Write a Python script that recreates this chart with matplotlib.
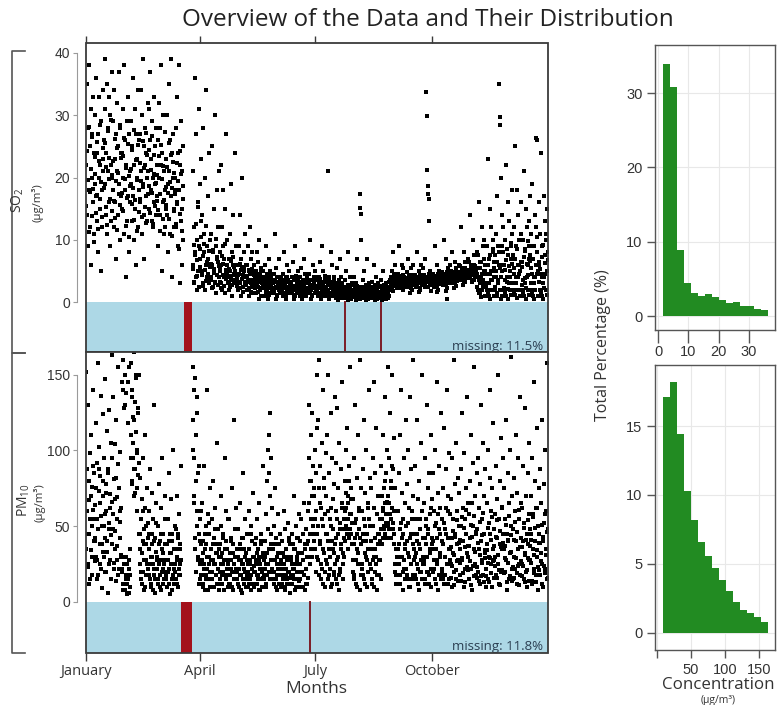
import numpy as np
import matplotlib
matplotlib.use("Agg")
import matplotlib.pyplot as plt
from matplotlib.patches import Rectangle
from matplotlib.lines import Line2D

nan = float("nan")

# ---------------- data ----------------
# SO2 concentration readings, grouped in 52 consecutive blocks of the year
so2_blocks = [
    [22, 35, 14, 28, 9, 38, 18, 25, 12, 31, 6, 20, 27, 16, 33, 11, 24, 19],
    [30, 17, 36, 13, 24, 8, 27, 20, 33, 15, 22, 5, 29, 18, 12, 34, 23, 26],
    [26, 39, 19, 31, 14, 24, 35, 11, 28, 21, 16, 33, 9, 30, 22, 13, 37, 20],
    [18, 29, 12, 34, 23, 16, 27, 7, 21, 32, 14, 25, 19, 37, 10, 28, 17, 24],
    [24, 15, 31, 20, 38, 11, 26, 18, 4, 22, 29, 13, 33, 17, 8, 27, 21, 16],
    [19, 29, 13, 25, 36, 17, 22, 10, 31, 15, 27, 6, 23, 20, 34, 12, 26, 18],
    [27, 16, 34, 21, 11, 30, 19, 39, 14, 25, 7, 22, 28, 17, 24, 13, 20, 32],
    [21, 31, 15, 26, 37, 18, 23, 13, 29, 12, 20, 33, 16, 25, 19, 28, 14, 22],
    [17, 26, 9, 32, 20, 14, 28, 38, 22, 5, 24, 16, 30, 11, 21, 18, 12, 15],
    [23, 14, 30, 19, 8, 35, 21, 26, 11, 39, 17, 24, 4, 20, 27, 15, 12, 18],
    [20, 28, 12, 33, 16, 24, 9, 38, 18, 3, 22, 13, 29, 6, 21, 15, 25, 10],
    [],
    [6, 21, 3, 12, 36, 8, 4, 27, 10, 2, 16, 5, 31, 9, 7, 19, 13, 23],
    [5, 14, 3, 28, 8, 11, 2, 20, 6, 34, 4, 9, 17, 7, 3, 24, 10, 6],
    [4, 11, 6, 25, 2.5, 8, 15, 5, 30, 3, 9, 1.5, 18, 7, 6.5, 12, 4, 21],
    [5, 8, 3, 22, 6, 12, 2, 9, 18, 4, 7, 1.5, 15, 5, 27, 6, 10, 4],
    [4, 7, 2, 11, 5, 19, 3.5, 8, 1, 6, 14, 4.5, 3, 24, 5, 9, 6, 3],
    [3.5, 6, 2, 9, 4.5, 14, 3, 7, 1, 5.5, 20, 4, 2.5, 8, 5, 11, 3, 6],
    [4, 6, 2, 9, 3.5, 5, 1, 12, 4.5, 3, 7, 2.5, 8, 1.5, 5, 3.5, 6, 4],
    [3, 5, 1.5, 8, 4, 2.5, 6.5, 0.5, 3.5, 10, 2, 4.5, 5.5, 1, 3, 4, 2.5, 5],
    [2.5, 4, 1, 6, 3, 9, 2, 4.5, 0.5, 3.5, 7, 1.5, 5, 2.5, 3, 4, 2, 3.5],
    [3, 1.5, 4.5, 2, 11, 3.5, 0.5, 5.5, 2.5, 1, 4, 3, 7, 2, 3.5, 1.5, 4, 2.5],
    [2, 3.5, 1, 4.5, 2.5, 8, 1.5, 3, 0.5, 4, 2, 6, 3.5, 1.5, 2.5, 5, 3, 2],
    [3, 1.5, 4, 2, 6.5, 2.5, 0.5, 3.5, 1, 9, 2, 4, 3, 1.5, 5, 2.5, 3.5, 2],
    [2.5, 4, 1, 3, 5.5, 2, 0.5, 3.5, 1.5, 7, 2.5, 4.5, 3, 1, 2, 3.5, 4, 2],
    [3, 1.5, 4.5, 2.5, 10, 2, 0.5, 3.5, 1, 6, 2.5, 4, 3, 1.5, 5, 2, 3.5, 2.5],
    [2, 3.5, 1, 4, 2.5, 6.5, 1.5, 3, 0.5, 9, 2, 5, 3, 1, 2.5, 4, 3.5, 2],
    [2.5, 1, 3.5, 21, 2, 4, 0.5, 3, 1.5, 8, 2.5, 6, 3, 1, 2, 4, 3.5, 1.5],
    [1.5, 3, 0.7, 2.5, 5.5, 1.2, 2, 0.4, 3.5, 1.8, 7, 1, 2.5, 4, 1.5, 3, 2, 1.2],
    [1.2, 2.5, 0.7, 3.5, 1.6, 5, 1, 2.2, 0.4, 8, 1.8, 2.8, 1.5, 4, 1, 2, 1.2, 3],
    [1.5, 2.8, 0.8, 4, 1.2, 2.2, 0.4, 3, 1.8, 7, 1, 2.5, 1.4, 1.6, 17.4, 15.1, 14.1, 10],
    [1.2, 2.4, 0.6, 3.5, 1.5, 5, 0.8, 2, 0.4, 2.8, 1.8, 7, 1, 2.2, 1.4, 3, 1.6, 2.4],
    [2, 1, 3.2, 0.6, 2.4, 1.5, 6, 0.8, 2.8, 1.2, 0.4, 4, 1.8, 2.2, 1.4, 3, 1.6, 2.4],
    [1.4, 2.6, 0.7, 3.5, 1, 2, 0.4, 5, 1.6, 2.8, 1.2, 2.3, 0.9, 3, 1.8, 1.5, 2.2, 0.6],
    [1.5, 2, 1, 3.5, 2.5, 4, 3, 5, 2.5, 8, 3.5, 4.5, 3, 6, 2.8, 3.2, 4, 3],
    [3, 4.5, 2.2, 3.7, 9, 2.8, 4.2, 3.4, 2.5, 6, 3.2, 2, 5.5, 3, 4, 2.6, 3.5, 3.8],
    [3.5, 2.4, 4.8, 3, 7, 2.7, 4.2, 3.3, 1.5, 5.5, 3.8, 2, 3.2, 6, 3.6, 2.8, 4, 3.1],
    [3.3, 4.4, 2.4, 3.6, 8, 2.7, 4, 3, 1.6, 5, 3.5, 2, 6, 3.1, 4.2, 2.9, 3.4, 5.5],
    [4.4, 3.2, 7, 2.4, 3.6, 33.8, 29.9, 21.2, 18.7, 17.3, 16.6, 13.0, 2.8, 5, 3, 1.8, 3.8, 4],
    [3.6, 4.5, 2.4, 3.3, 9, 2.7, 4.2, 3, 1.6, 6, 3.4, 2, 5, 3.1, 4, 2.9, 3.5, 4.4],
    [3.9, 4.8, 2.7, 3.6, 10, 3, 4.5, 3.3, 1.8, 7, 0.5, 2.3, 5.5, 3.4, 4.3, 3.1, 3.8, 6],
    [4.2, 5, 3, 3.9, 8, 3.3, 4.8, 3.6, 2.2, 6.5, 3.7, 2.6, 5.5, 3.4, 4.6, 4.4, 4, 6],
    [4.8, 5.8, 3.6, 4.5, 12, 3.9, 5.5, 4.2, 2.8, 8, 4.3, 3.2, 6.5, 4, 5.2, 4.6, 5, 7],
    [5.2, 6.5, 4, 4.9, 14, 4.3, 6, 4.6, 3.2, 10, 4.7, 3.6, 7.5, 4.4, 5.8, 5, 5.4, 8],
    [5.5, 2, 7.5, 3.5, 16, 1.5, 6.5, 4, 0.8, 12, 3, 9, 2.5, 5, 10, 4.5, 6, 3],
    [6, 2, 9, 3, 23, 1, 7, 4.5, 0.5, 15, 3.5, 12, 5, 2, 10, 8.5, 4, 6.5],
    [7.5, 2, 11, 4, 17, 1, 9, 3, 6, 35, 29.7, 28.4, 20, 0.5, 14, 5, 8, 12],
    [6, 2, 10, 3.5, 22, 1, 8.5, 4, 0.5, 16, 3, 13, 5, 2, 9, 7, 11, 18],
    [7.5, 2, 12, 4.5, 25, 1.2, 9, 3, 0.6, 18, 4, 14, 6, 2, 10, 5, 11, 16],
    [6.5, 2, 10, 3.5, 21, 1, 8.5, 3, 0.5, 15, 4, 12, 6, 2, 9, 7, 13, 17],
    [7.5, 2, 11, 4.5, 19, 1, 9, 3, 0.5, 14, 4, 12, 26.4, 26, 8, 6, 5, 16],
    [6, 2, 11, 4.5, 24, 1, 9, 3, 0.5, 17, 4, 13, 7.5, 2, 10, 5, 15, 8],
]

# further SO2 readings in the same blocks (the dense core of each block)
so2_blocks_core = [
    [15.4, 24.2, 19.6, 11.3, 28.1, 17.7, 21.4, 13.8, 26.5, 18.2, 9.6, 23.3],
    [20.5, 14.3, 25.7, 17.2, 11.8, 22.6, 28.4, 16.5, 19.3, 13.6, 24.8, 21.1],
    [18.3, 25.6, 15.2, 21.7, 12.4, 27.5, 19.8, 23.1, 16.6, 29.3, 14.7, 20.4],
    [22.6, 16.3, 26.2, 13.5, 19.4, 24.7, 11.6, 20.8, 17.3, 28.5, 15.6, 23.2],
    [17.5, 23.4, 14.6, 26.3, 19.7, 12.2, 21.5, 16.8, 25.4, 10.5, 20.3, 18.6],
    [21.3, 15.7, 24.5, 18.4, 13.2, 27.6, 16.4, 22.8, 11.5, 19.6, 25.3, 14.4],
    [16.6, 22.3, 19.5, 13.7, 25.8, 18.5, 21.6, 15.3, 27.2, 12.7, 23.6, 17.4],
    [18.7, 24.4, 14.3, 21.2, 17.6, 26.7, 12.5, 20.6, 23.7, 15.5, 19.2, 16.3],
    [20.4, 14.8, 23.5, 17.3, 11.4, 25.2, 19.7, 13.3, 21.8, 16.4, 27.3, 18.5],
    [15.6, 21.7, 17.5, 25.5, 13.4, 19.3, 23.6, 10.7, 18.4, 22.5, 14.6, 20.7],
    [17.3, 12.6, 22.4, 15.7, 19.5, 8.6, 24.3, 14.2, 20.6, 11.4, 18.7, 16.5],
    [],
    [5.4, 9.2, 3.3, 7.6, 12.5, 4.2, 6.7, 15.3, 2.4, 8.5, 5.7, 10.4],
    [4.3, 7.4, 2.6, 9.3, 5.2, 3.4, 12.3, 6.5, 4.6, 8.2, 3.7, 5.6],
    [3.6, 6.2, 2.3, 8.4, 4.7, 5.3, 3.2, 10.2, 4.4, 7.3, 2.7, 5.8],
    [3.3, 5.6, 2.2, 7.4, 4.3, 6.2, 2.6, 9.4, 3.7, 5.2, 4.6, 3.1],
    [3.2, 5.3, 2.4, 6.6, 4.2, 2.7, 7.3, 3.6, 5.7, 4.4, 3.3, 4.1],
    [2.6, 4.4, 3.2, 6.2, 2.3, 5.2, 3.7, 4.3, 1.6, 5.6, 3.3, 4.2],
    [2.7, 4.2, 3.3, 5.2, 2.2, 4.6, 3.6, 1.7, 5.4, 3.2, 4.3, 2.4],
    [2.2, 3.6, 2.7, 4.4, 1.6, 3.3, 4.2, 2.3, 5.1, 3.4, 2.6, 3.2],
    [2.2, 3.2, 1.6, 3.7, 2.6, 4.2, 1.2, 3.3, 2.3, 4.4, 2.7, 3.1],
    [2.3, 3.2, 1.7, 3.6, 2.4, 4.1, 1.2, 2.2, 3.3, 2.6, 3.7, 1.6],
    [1.6, 2.7, 3.2, 2.2, 3.6, 1.2, 2.4, 4.1, 2.3, 3.3, 1.7, 2.6],
    [2.2, 3.3, 1.6, 2.6, 3.7, 1.2, 2.3, 4.2, 2.7, 3.2, 1.4, 2.1],
    [1.6, 2.7, 3.2, 2.2, 3.6, 1.2, 2.4, 2.1, 3.3, 1.7, 4.2, 2.3],
    [2.2, 3.3, 1.6, 2.7, 3.6, 1.2, 2.3, 3.1, 2.6, 4.1, 1.7, 2.2],
    [1.7, 2.6, 3.2, 2.3, 3.7, 1.2, 2.7, 2.2, 3.3, 1.6, 4.2, 2.1],
    [2.3, 3.2, 1.6, 2.7, 3.6, 1.2, 2.2, 3.3, 2.6, 1.7, 2.1, 3.1],
    [1.1, 2.2, 1.4, 2.6, 0.8, 1.8, 3.1, 1.2, 2.3, 0.6, 1.6, 2.1],
    [1.1, 1.8, 1.3, 2.4, 0.7, 1.6, 2.8, 1.1, 2.1, 0.5, 1.5, 1.9],
    [1.0, 1.8, 1.3, 2.3, 0.7, 1.5, 2.6, 1.1, 2.0, 0.5, 1.4, 1.9],
    [0.9, 1.7, 1.2, 2.2, 0.6, 1.4, 2.5, 1.0, 1.9, 0.5, 1.3, 1.8],
    [0.8, 1.6, 1.3, 2.1, 0.6, 1.5, 2.4, 1.1, 1.9, 0.5, 1.2, 1.7],
    [0.9, 1.6, 1.1, 2.1, 0.6, 1.3, 2.4, 1.0, 1.8, 0.5, 1.2, 1.7],
    [2.5, 3.2, 2.0, 3.8, 2.8, 3.4, 1.8, 4.2, 3.0, 2.6, 3.6, 2.2],
    [2.8, 3.3, 2.4, 3.9, 3.0, 3.5, 2.2, 4.4, 3.1, 2.7, 3.7, 3.2],
    [2.9, 3.4, 2.5, 3.9, 3.1, 3.6, 2.3, 4.3, 3.2, 2.8, 3.7, 3.3],
    [2.9, 3.5, 2.6, 4.0, 3.1, 3.7, 2.3, 4.4, 3.3, 2.8, 3.8, 3.2],
    [3.0, 3.6, 2.6, 4.1, 3.2, 3.8, 2.4, 4.5, 3.4, 2.9, 3.9, 3.3],
    [3.1, 3.7, 2.7, 4.2, 3.3, 3.9, 2.5, 4.6, 3.5, 3.0, 4.0, 3.4],
    [3.3, 3.9, 2.9, 4.4, 3.5, 4.1, 2.7, 4.8, 3.7, 3.2, 4.2, 3.6],
    [3.6, 4.2, 3.2, 4.7, 3.8, 4.4, 3.0, 5.1, 4.0, 3.5, 4.5, 3.9],
    [4.0, 4.6, 3.6, 5.1, 4.2, 4.8, 3.4, 5.5, 4.4, 3.9, 4.9, 4.3],
    [4.2, 4.9, 3.8, 5.4, 4.5, 5.1, 3.6, 5.9, 4.7, 4.1, 5.2, 4.6],
    [2.5, 4.0, 1.5, 5.5, 3.0, 6.5, 2.0, 4.5, 3.5, 7.0, 1.0, 5.0],
    [2.5, 4.5, 1.5, 6.0, 3.0, 7.5, 2.0, 5.0, 3.5, 8.0, 1.0, 5.5],
    [2.5, 5.0, 1.5, 6.5, 3.5, 8.0, 2.0, 5.5, 4.0, 9.0, 1.0, 6.0],
    [2.2, 5.2, 1.4, 6.8, 3.3, 7.6, 2.1, 5.8, 4.1, 9.5, 1.1, 6.2],
    [3.0, 5.5, 1.5, 7.0, 4.0, 8.5, 2.0, 6.0, 4.5, 10.0, 1.0, 6.5],
    [2.8, 5.6, 1.6, 7.2, 3.8, 8.2, 2.3, 6.1, 4.4, 9.8, 1.2, 6.6],
    [3.0, 5.5, 1.5, 7.0, 4.0, 9.0, 2.0, 6.0, 4.5, 10.5, 1.0, 6.5],
    [3.2, 5.4, 1.7, 7.3, 4.1, 9.2, 2.2, 6.3, 4.6, 11.0, 1.1, 6.8],
]

# PM10 concentration readings, same 52 blocks (nan = missing reading)
pm10_blocks = [
    [152, 45, 88, 23, 130, 67, 12, 98, 55, 34, 110, 76, 18, 61, 140, 40, 85, 27],
    [64, 118, 30, 92, 15, 158, 48, 73, 102, 25, 83, 57, 136, 38, 9, 70, 124, 50],
    [95, 42, 147, 20, 78, 60, 113, 33, 6, 88, 52, 127, 71, 28, 105, 44, 163, 66],
    [58, 135, 26, 81, 104, 47, 14, 120, 69, 37, 91, 155, 22, 75, 53, 99, 31, 62],
    [145, 22, 160, 12, 128, 30, 8, 150, 18, 138, 25, 5, 118, 15, 28, 155, 10, 35],
    [158, 95, 140, 78, 122, 105, 165, 88, 132, 72, 112, 148, 60, 98, 125, 84, 150, 45],
    [35, 82, 20, 55, 12, 68, 40, 95, 28, 8, 48, 110, 62, 18, 38, 75, 25, 52],
    [22, 45, 60, 15, 88, 30, 10, 72, 38, 55, 25, 130, 18, 42, 6, 65, 33, 28],
    [30, 12, 50, 25, 78, 40, 18, 62, 8, 35, 95, 22, 45, 15, 28, 70, 38, 20],
    [18, 38, 10, 55, 28, 85, 22, 45, 5, 32, 68, 15, 40, 25, 100, 12, 35, 50],
    [25, 48, 15, 70, 30, 10, 42, 22, 58, 35, 18, 90, 28, nan, nan, nan, nan, nan],
    [],
    [155, 120, 95, 70, 148, 42, 110, 20, 135, 60, 30, 85, 12, 45, 25, 55, 18, 38],
    [28, 65, 12, 40, 22, 90, 35, 8, 50, 18, 140, 30, 15, 58, 25, 45, 10, 75],
    [20, 35, 55, 15, 28, 80, 10, 42, 25, 62, 32, 18, 105, 38, 22, 48, 8, 30],
    [38, 15, 50, 25, 70, 12, 32, 20, 45, 8, 28, 95, 18, 40, 60, 22, 35, 10],
    [25, 55, 18, 32, 12, 42, 28, 75, 20, 8, 38, 15, 120, 30, 48, 22, 62, 35],
    [15, 30, 48, 22, 10, 38, 65, 18, 28, 6, 42, 25, 85, 12, 35, 20, 55, 32],
    [32, 18, 45, 10, 25, 60, 35, 15, 28, 8, 50, 22, 40, 12, 72, 30, 20, 38],
    [20, 42, 28, 12, 55, 35, 18, 8, 30, 65, 25, 15, 45, 38, 10, 22, 90, 32],
    [28, 15, 40, 22, 58, 10, 32, 18, 48, 25, 85, 110, 125, 70, 95, 38, 20, 62],
    [35, 20, 50, 12, 28, 75, 42, 15, 30, 8, 22, 58, 38, 18, 45, 25, 10, 32],
    [22, 40, 15, 32, 60, 25, 10, 48, 35, 18, 28, 12, 52, 30, 20, 42, 6, 38],
    [30, 12, 45, 25, 18, 38, 70, 22, 8, 35, 15, 50, 28, 42, 20, 32, 10, 58],
    [25, 40, 15, 55, 32, 10, 20, 45, 28, 65, 18, 35, 8, 48, 22, 38, 12, 30],
    [60, 95, 130, 45, 80, 110, 35, 70, 125, 50, 90, 40, 75, 100, 55, 20, 85, 150],
    [45, 120, 28, 75, 160, 38, 90, 15, 62, 105, 22, 50, 140, 32, 82, 10, 58, 98],
    [70, 25, 110, 40, 150, 18, 85, 55, 30, 125, 62, 12, 95, 35, 48, 78, 20, 135],
    [38, 92, 15, 60, 128, 28, 75, 45, 8, 105, 52, 20, 88, 35, 65, 145, 25, 48],
    [55, 30, 80, 40, 100, 62, 48, 115, 35, 70, 42, 90, 58, 155, 45, 75, 52, 38],
    [28, 68, 18, 95, 42, 130, 12, 55, 82, 35, 110, 25, 62, 48, 160, 8, 75, 38],
    [60, 22, 88, 40, 120, 15, 72, 50, 30, 100, 45, 10, 65, 35, 140, 55, 25, 82],
    [35, 75, 12, 50, 95, 28, 62, 145, 20, 42, 85, 30, 115, 8, 58, 38, 70, 18],
    [45, 28, 70, 15, 90, 55, 38, 60, 110, 75, 48, 135, 65, 85, 52, 100, 42, 155],
    [70, 48, 95, 58, 125, 42, 80, 62, 150, 52, 88, 45, 108, 75, 20, 35, 12, 60],
    [25, 60, 12, 85, 38, 110, 18, 52, 140, 30, 72, 8, 45, 95, 22, 65, 35, 120],
    [50, 18, 78, 32, 100, 10, 62, 42, 135, 25, 88, 55, 15, 70, 38, 160, 28, 45],
    [30, 90, 15, 55, 120, 40, 22, 68, 8, 80, 48, 35, 105, 20, 60, 150, 42, 25],
    [65, 28, 95, 12, 50, 38, 130, 20, 75, 45, 18, 85, 58, 32, 110, 10, 42, 68],
    [40, 85, 22, 60, 15, 100, 35, 52, 145, 28, 72, 8, 48, 90, 30, 62, 18, 125],
    [55, 20, 75, 38, 115, 12, 48, 30, 88, 62, 25, 140, 42, 70, 15, 98, 35, 58],
    [25, 68, 42, 10, 95, 32, 55, 160, 20, 78, 45, 15, 105, 38, 60, 28, 82, 50],
    [72, 35, 18, 88, 50, 125, 28, 62, 40, 10, 98, 55, 22, 75, 45, 135, 32, 65],
    [30, 58, 15, 80, 42, 110, 22, 65, 8, 50, 92, 35, 155, 25, 70, 45, 18, 85],
    [48, 20, 95, 35, 62, 12, 78, 40, 130, 28, 55, 18, 105, 45, 70, 32, 88, 10],
    [22, 65, 38, 100, 15, 52, 30, 82, 45, 140, 25, 60, 10, 75, 35, 118, 48, 28],
    [58, 30, 90, 18, 68, 42, 150, 25, 55, 12, 80, 38, 108, 20, 62, 35, 95, 45],
    [35, 75, 20, 55, 120, 28, 45, 8, 85, 40, 65, 15, 100, 32, 50, 162, 22, 70],
    [15, 48, 82, 30, 60, 22, 110, 40, 12, 72, 35, 95, 25, 55, 18, 135, 42, 65],
    [62, 25, 40, 90, 15, 52, 32, 128, 20, 70, 45, 10, 85, 38, 58, 28, 105, 48],
    [28, 70, 45, 12, 95, 35, 58, 22, 145, 40, 80, 18, 62, 30, 115, 50, 8, 75],
    [45, 18, 88, 32, 65, 25, 120, 40, 10, 78, 52, 22, 100, 35, 60, 15, 158, 48],
]

# further PM10 readings in the same blocks (the dense lower part)
pm10_blocks_core = [
    [35, 60, 25, 80, 45, 15, 70, 50, 30, 90, 55, 40],
    [42, 75, 28, 55, 18, 88, 38, 65, 22, 50, 80, 33],
    [30, 58, 20, 72, 40, 85, 25, 48, 62, 15, 38, 95],
    [48, 22, 68, 35, 82, 28, 55, 18, 75, 42, 60, 30],
    [20, 140, 8, 25, 130, 15, 30, 12, 145, 22, 6, 18],
    [110, 80, 135, 95, 70, 120, 88, 150, 100, 75, 128, 92],
    [25, 45, 15, 32, 60, 20, 38, 10, 50, 28, 18, 42],
    [18, 35, 25, 12, 45, 30, 8, 40, 22, 15, 52, 28],
    [22, 15, 38, 28, 10, 45, 20, 32, 12, 25, 55, 18],
    [15, 28, 20, 40, 12, 32, 25, 8, 45, 18, 35, 22],
    [20, 35, 12, 28, 45, 18, 25, 38, nan, nan, nan, nan],
    [],
    [100, 65, 140, 35, 80, 50, 125, 28, 90, 40, 15, 60],
    [18, 32, 10, 25, 45, 15, 38, 22, 8, 30, 52, 20],
    [15, 28, 20, 38, 10, 25, 48, 18, 32, 12, 22, 35],
    [20, 12, 30, 18, 42, 25, 8, 35, 15, 28, 22, 55],
    [12, 28, 18, 40, 22, 10, 32, 15, 25, 48, 20, 30],
    [20, 12, 28, 18, 35, 8, 25, 15, 42, 22, 30, 10],
    [15, 28, 20, 35, 12, 25, 18, 45, 22, 30, 10, 24],
    [12, 25, 18, 32, 15, 28, 8, 22, 40, 20, 30, 16],
    [18, 30, 12, 25, 80, 100, 20, 35, 15, 28, 45, 22],
    [15, 28, 20, 38, 10, 25, 18, 32, 12, 22, 45, 28],
    [12, 25, 18, 30, 8, 22, 35, 15, 28, 20, 40, 16],
    [18, 28, 12, 22, 35, 15, 25, 10, 30, 20, 42, 14],
    [15, 25, 20, 32, 10, 28, 18, 38, 12, 22, 30, 16],
    [40, 65, 25, 80, 55, 30, 90, 45, 70, 35, 60, 115],
    [30, 50, 18, 65, 40, 25, 55, 12, 35, 75, 20, 45],
    [28, 45, 15, 60, 35, 22, 50, 10, 40, 68, 18, 32],
    [25, 42, 12, 55, 30, 18, 48, 22, 38, 62, 15, 32],
    [42, 60, 50, 72, 45, 65, 55, 80, 48, 58, 68, 52],
    [20, 38, 15, 52, 28, 45, 10, 32, 60, 25, 42, 18],
    [25, 45, 18, 55, 32, 12, 40, 28, 62, 20, 35, 50],
    [22, 40, 15, 50, 30, 10, 35, 25, 58, 18, 45, 28],
    [40, 55, 48, 70, 42, 62, 50, 80, 45, 58, 66, 52],
    [50, 65, 42, 75, 55, 90, 48, 60, 38, 25, 18, 30],
    [18, 35, 25, 48, 12, 30, 42, 20, 55, 28, 15, 38],
    [22, 40, 15, 52, 30, 10, 45, 25, 60, 18, 35, 28],
    [18, 32, 25, 45, 12, 38, 20, 55, 28, 15, 42, 30],
    [25, 42, 15, 55, 30, 20, 48, 12, 35, 62, 22, 38],
    [20, 35, 28, 50, 12, 42, 25, 58, 18, 32, 45, 15],
    [22, 40, 15, 52, 30, 18, 45, 25, 60, 12, 35, 28],
    [16, 36, 24, 47, 11, 31, 43, 21, 54, 27, 14, 39],
    [26, 41, 14, 56, 29, 19, 49, 13, 36, 61, 23, 37],
    [21, 37, 27, 51, 11, 43, 24, 57, 17, 33, 46, 16],
    [23, 39, 14, 53, 31, 17, 44, 26, 59, 13, 34, 29],
    [17, 34, 26, 49, 13, 29, 41, 19, 56, 27, 16, 37],
    [24, 43, 16, 54, 31, 21, 47, 11, 36, 63, 21, 39],
    [19, 37, 29, 51, 13, 41, 26, 57, 17, 33, 44, 14],
    [23, 41, 16, 53, 29, 19, 46, 24, 61, 11, 36, 27],
    [17, 36, 24, 49, 13, 31, 41, 21, 54, 29, 14, 37],
    [26, 41, 14, 56, 31, 19, 49, 13, 34, 62, 23, 39],
    [21, 39, 27, 51, 12, 43, 24, 58, 19, 31, 46, 16],
]

# missing-data periods (day of year ranges)
so2_missing = [(77.4, 83.8)]
so2_missing_days = [205, 233]
pm10_missing = [(74.7, 83.6)]
pm10_missing_days = [177]
so2_missing_text = "missing: 11.5%"
pm10_missing_text = "missing: 11.8%"

month_ticks = [0, 90, 181, 273]
month_labels = ["January", "April", "July", "October"]

# histograms (percentage of total per bin)
so2_hist_range = (1.75, 36.3)
so2_hist_pct = [33.9, 30.8, 8.9, 4.4, 3.1, 2.7, 2.9, 2.6, 2.2, 1.8, 1.9, 1.4, 1.4, 1.0, 0.8]
pm10_hist_range = (9.3, 163.2)
pm10_hist_pct = [17.1, 18.2, 14.4, 10.3, 8.2, 6.6, 5.6, 4.7, 3.8, 3.05, 2.25, 1.65, 1.4, 1.16, 0.8]

# ---------------- style ----------------
plt.rcParams["font.family"] = ["Open Sans", "DejaVu Sans"]
plt.rcParams["mathtext.fontset"] = "custom"
plt.rcParams["mathtext.rm"] = "Open Sans"
plt.rcParams["mathtext.it"] = "Open Sans"
plt.rcParams["mathtext.default"] = "regular"

NUMFONT = "Liberation Sans"
FRAME = "#3a3a3a"
BAND = "#ADD8E6"
RED = "#A3121C"
DARKRED = "#7b1b25"
GREEN = "#228B22"
TXT = "#333333"

W, H = 777, 705
fig = plt.figure(figsize=(W / 100, H / 100), dpi=100)


def rect(l, t, r, b):
    return [l / W, 1 - b / H, (r - l) / W, (b - t) / H]


def block_points(blocks):
    width = 365 / len(blocks)
    xs, ys = [], []
    for i, vals in enumerate(blocks):
        n = len(vals)
        for j, v in enumerate(vals):
            if v == v:
                xs.append((i + (j + 0.5) / n) * width)
                ys.append(v)
    return np.array(xs), np.array(ys)


def frame(ax):
    for s in ["top", "right", "bottom"]:
        ax.spines[s].set_visible(False)
    ax.add_patch(Rectangle((0, 0), 1, 1, transform=ax.transAxes, fill=False,
                           ec=FRAME, lw=1.3, zorder=10, clip_on=False))


def series_panel(ax, block_sets, ylim, yticks, missing, missing_days, miss_text):
    ax.set_xlim(0, 365)
    ax.set_ylim(*ylim)
    frame(ax)
    ax.axhspan(ylim[0], 0, color=BAND, lw=0, zorder=1)
    frac = (0 - ylim[0]) / (ylim[1] - ylim[0])
    for a, b in missing:
        ax.axvspan(a, b, ymin=0, ymax=frac, color=RED, lw=0, zorder=2)
    for d in missing_days:
        ax.axvline(d, ymin=0, ymax=frac, color=DARKRED, lw=1.4, zorder=2)
    for blocks in block_sets:
        x, y = block_points(blocks)
        ax.scatter(x, y, s=5.5, marker="s", c="black", lw=0, zorder=3)
    ax.text(0.99, frac * 0.12, miss_text, transform=ax.transAxes, ha="right",
            va="center", fontsize=9.5, color="#2b3f52", zorder=5)
    ax.spines["left"].set_position(("outward", 6.5))
    ax.spines["left"].set_bounds(yticks[0], yticks[-1])
    ax.spines["left"].set_color("#9a9a9a")
    ax.spines["left"].set_linewidth(0.8)
    ax.set_yticks(yticks)
    ax.tick_params(axis="y", direction="out", length=3, width=0.8, color="#9a9a9a",
                   labelsize=10, labelcolor=TXT, pad=2)
    for lab in ax.get_yticklabels():
        lab.set_fontfamily(NUMFONT)


ax1 = fig.add_axes(rect(86, 43, 548, 352))
series_panel(ax1, [so2_blocks, so2_blocks_core], (-8.0, 41.6), [0, 10, 20, 30, 40],
             so2_missing, so2_missing_days, so2_missing_text)
ax1.set_xticks(month_ticks)
ax1.xaxis.set_ticks_position("top")
ax1.tick_params(axis="x", direction="out", length=5, width=1, color=FRAME,
                labeltop=False, labelbottom=False)

ax2 = fig.add_axes(rect(86, 352, 548, 653))
series_panel(ax2, [pm10_blocks, pm10_blocks_core], (-33.7, 165.0), [0, 50, 100, 150],
             pm10_missing, pm10_missing_days, pm10_missing_text)
ax2.set_xticks(month_ticks)
ax2.set_xticklabels(month_labels)
ax2.tick_params(axis="x", direction="out", length=6, width=1, color=FRAME, labelsize=10.5,
                labelcolor=TXT, pad=2)

# ---------------- histograms ----------------
def hist_panel(ax, pct, hrange, xlim, ylim, xticks, xlabels, yticks):
    edges = np.linspace(hrange[0], hrange[1], len(pct) + 1)
    ax.stairs(pct, edges, fill=True, color=GREEN, lw=0, zorder=3)
    ax.set_xlim(*xlim)
    ax.set_ylim(*ylim)
    ax.set_xticks(xticks)
    ax.set_xticklabels(xlabels)
    ax.set_yticks(yticks)
    ax.grid(True, color="#e8e8e8", lw=0.8, zorder=0)
    ax.set_axisbelow(True)
    for s in ax.spines.values():
        s.set_color("#555555")
        s.set_linewidth(1.0)
    ax.tick_params(direction="out", length=6, width=1, color="#555555", labelsize=10.5,
                   labelcolor=TXT, pad=3)
    for lab in ax.get_xticklabels() + ax.get_yticklabels():
        lab.set_fontfamily(NUMFONT)


axh1 = fig.add_axes(rect(655, 45, 775, 330))
hist_panel(axh1, so2_hist_pct, so2_hist_range, (-1.0, 38.6), (-1.88, 36.46),
           [0, 10, 20, 30], ["0", "10", "20", "30"], [0, 10, 20, 30])
axh1.tick_params(axis="x", length=9, pad=2)

axh2 = fig.add_axes(rect(655, 365, 775, 650))
hist_panel(axh2, pm10_hist_pct, pm10_hist_range, (-3.0, 173.5), (-1.26, 19.43),
           [0, 50, 100, 150], ["", "50", "100", "150"], [0, 5, 10, 15])

# ---------------- texts ----------------
fig.text(428 / W, 1 - 20 / H, "Overview of the Data and Their Distribution",
         ha="center", va="center", fontsize=17.5, color="#222222")
fig.text(316 / W, 1 - 689 / H, "Months", ha="center", va="center", fontsize=12.5, color=TXT)
fig.text(603 / W, 1 - 345 / H, "Total Percentage (%)", ha="center", va="center",
         rotation=90, fontsize=11.5, color=TXT)
fig.text(718 / W, 1 - 685 / H, "Concentration", ha="center", va="center", fontsize=12.2, color=TXT)
fig.text(718 / W, 1 - 700 / H, "(µg/m³)", ha="center", va="center", fontsize=7.5, color=TXT)

fig.text(18 / W, 1 - 200 / H, "SO$_2$", ha="center", va="center", rotation=90,
         fontsize=10, color=TXT)
fig.text(37 / W, 1 - 203 / H, "(µg/m³)", ha="center", va="center", rotation=90,
         fontsize=8.2, color=TXT)
fig.text(24 / W, 1 - 500 / H, "PM$_{10}$", ha="center", va="center", rotation=90,
         fontsize=10, color=TXT)
fig.text(40 / W, 1 - 503 / H, "(µg/m³)", ha="center", va="center", rotation=90,
         fontsize=8.2, color=TXT)


# brackets at far left
def bracket(top, bot):
    xs = [25 / W, 12 / W, 12 / W, 25 / W]
    ys = [1 - top / H, 1 - top / H, 1 - bot / H, 1 - bot / H]
    fig.add_artist(Line2D(xs, ys, color="#555555", lw=1.2))


bracket(51, 353)
bracket(353, 653)

fig.savefig("out.png", dpi=100)
